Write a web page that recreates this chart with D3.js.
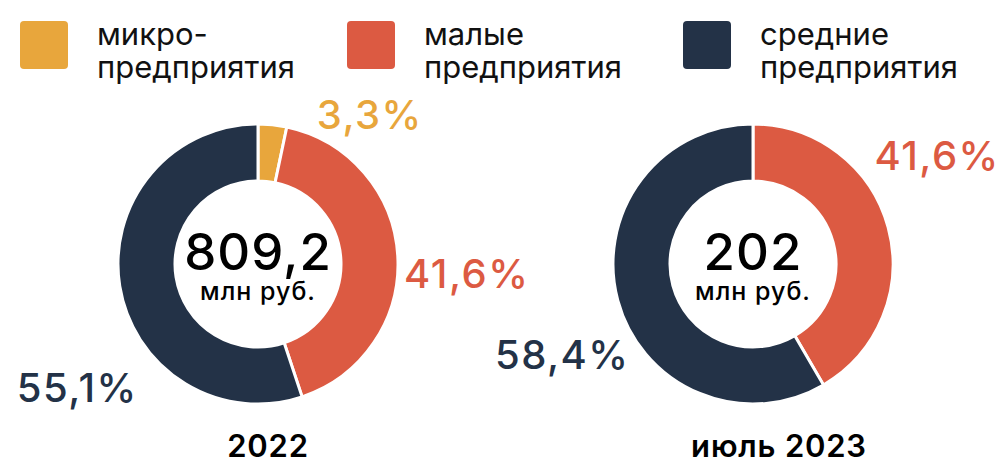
<!DOCTYPE html>
<html><head><meta charset="utf-8">
<script src="https://cdn.jsdelivr.net/npm/d3@7"></script>
<style>
html,body{margin:0;padding:0;background:#fff;}
svg{display:block;font-family:Inter,"Noto Sans",sans-serif;}
</style></head>
<body><svg id="c" width="1003" height="463"></svg>
<script>
// ---- data ----
const categories = ["микро-предприятия", "малые предприятия", "средние предприятия"];
const legendLines = [["микро-", "предприятия"], ["малые", "предприятия"], ["средние", "предприятия"]];
const periods = ["2022", "июль 2023"];
const totals = ["809,2", "202"];
const unit = "млн руб.";
const values2022 = [3.3, 41.6, 55.1];
const values2023 = [0, 41.6, 58.4];
const colors = ["#E8A63C", "#DC5A42", "#233247"];

// ---- layout ----
const svg = d3.select("#c");
const color = d3.scaleOrdinal().domain(categories).range(colors);
const xPos = d3.scalePoint().domain(periods).range([258, 753]);
const xTitle = d3.scaleOrdinal().domain(periods).range([268, 779]);
const cy = 264, rOut = 140, rIn = 83;
// label placement (polar: degrees clockwise from top, radius)
const labelPolar = {
  "2022": [[36.7, 187], [92.7, 209], [235.6, 219]],
  "июль 2023": [null, [59.4, 214], [244.7, 211]]
};

// legend
const legendX = d3.scaleOrdinal().domain(categories).range([20, 347, 683]);
const lg = svg.selectAll("g.leg").data(categories).join("g")
  .attr("transform", d => `translate(${legendX(d)},21)`);
lg.append("rect").attr("width", 48).attr("height", 48).attr("rx", 4)
  .attr("fill", d => color(d));
lg.each(function(d, i) {
  const t = d3.select(this).append("text").attr("font-size", 31)
    .attr("fill", "#111").attr("font-weight", 400);
  legendLines[i].forEach((l, j) => t.append("tspan").attr("x", 77).attr("y", 24 + j * 33).text(l));
});

const pie = d3.pie().sort(null).value(d => d);
const arc = d3.arc().innerRadius(rIn).outerRadius(rOut);
const fmt = v => String(v).replace(".", ",") + "%";

[values2022, values2023].forEach((vals, k) => {
  const p = periods[k];
  const g = svg.append("g").attr("transform", `translate(${xPos(p)},${cy})`);
  const arcs = pie(vals);
  g.selectAll("path").data(arcs.filter(a => a.data > 0)).join("path")
    .attr("d", arc)
    .attr("fill", a => colors[a.index])
    .attr("stroke", "#fff").attr("stroke-width", 3).attr("stroke-linejoin", "round");
  arcs.forEach((a, i) => {
    if (a.data <= 0) return;
    const pol = labelPolar[p][i];
    const th = pol[0] * Math.PI / 180;
    g.append("text")
      .attr("x", pol[1] * Math.sin(th)).attr("y", -pol[1] * Math.cos(th))
      .attr("text-anchor", "middle").attr("dominant-baseline", "central")
      .attr("font-size", 40).attr("font-weight", 500).attr("letter-spacing", 1.5)
      .attr("fill", colors[i])
      .text(fmt(a.data));
  });
  g.append("text").attr("text-anchor", "middle").attr("y", 6)
    .attr("font-size", 51).attr("font-weight", 500).attr("letter-spacing", 1)
    .attr("fill", "#000").text(totals[k]);
  g.append("text").attr("text-anchor", "middle").attr("y", 36)
    .attr("font-size", 25).attr("font-weight", 500).attr("letter-spacing", 1)
    .attr("fill", "#000").text(unit);
  svg.append("text").attr("x", xTitle(p)).attr("y", 457).attr("text-anchor", "middle")
    .attr("font-size", 31).attr("font-weight", 600).attr("letter-spacing", 0.8)
    .attr("fill", "#000").text(p);
});
</script></body></html>
